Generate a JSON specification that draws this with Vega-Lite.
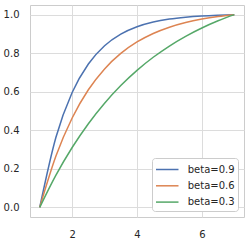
{
  "$schema": "https://vega.github.io/schema/vega-lite/v6.json",
  "width": 214,
  "height": 212,
  "autosize": {"type": "none"},
  "padding": {"left": 30, "top": 5, "right": 5, "bottom": 26},
  "background": "white",
  "config": {
    "font": "DejaVu Sans",
    "view": {"stroke": "#cccccc", "strokeWidth": 1},
    "axis": {"grid": true, "gridColor": "#dcdcdc", "gridWidth": 1, "domain": false, "ticks": false, "labelFont": "DejaVu Sans", "labelFontSize": 10, "labelColor": "#262626", "title": null}
  },
  "data": {"values": [
    {"x": 1, "y": 0, "s": "beta=0.9"},
    {"x": 1.5, "y": 0.3640, "s": "beta=0.9"},
    {"x": 2, "y": 0.5961, "s": "beta=0.9"},
    {"x": 2.5, "y": 0.7441, "s": "beta=0.9"},
    {"x": 3, "y": 0.8385, "s": "beta=0.9"},
    {"x": 3.5, "y": 0.8987, "s": "beta=0.9"},
    {"x": 4, "y": 0.9370, "s": "beta=0.9"},
    {"x": 4.5, "y": 0.9615, "s": "beta=0.9"},
    {"x": 5, "y": 0.9771, "s": "beta=0.9"},
    {"x": 5.5, "y": 0.9870, "s": "beta=0.9"},
    {"x": 6, "y": 0.9934, "s": "beta=0.9"},
    {"x": 6.5, "y": 0.9974, "s": "beta=0.9"},
    {"x": 7, "y": 1, "s": "beta=0.9"},
    {"x": 1, "y": 0, "s": "beta=0.6"},
    {"x": 1.5, "y": 0.2665, "s": "beta=0.6"},
    {"x": 2, "y": 0.4639, "s": "beta=0.6"},
    {"x": 2.5, "y": 0.6101, "s": "beta=0.6"},
    {"x": 3, "y": 0.7184, "s": "beta=0.6"},
    {"x": 3.5, "y": 0.7987, "s": "beta=0.6"},
    {"x": 4, "y": 0.8581, "s": "beta=0.6"},
    {"x": 4.5, "y": 0.9022, "s": "beta=0.6"},
    {"x": 5, "y": 0.9348, "s": "beta=0.6"},
    {"x": 5.5, "y": 0.9590, "s": "beta=0.6"},
    {"x": 6, "y": 0.9769, "s": "beta=0.6"},
    {"x": 6.5, "y": 0.9902, "s": "beta=0.6"},
    {"x": 7, "y": 1, "s": "beta=0.6"},
    {"x": 1, "y": 0, "s": "beta=0.3"},
    {"x": 1.5, "y": 0.1669, "s": "beta=0.3"},
    {"x": 2, "y": 0.3105, "s": "beta=0.3"},
    {"x": 2.5, "y": 0.4341, "s": "beta=0.3"},
    {"x": 3, "y": 0.5405, "s": "beta=0.3"},
    {"x": 3.5, "y": 0.6321, "s": "beta=0.3"},
    {"x": 4, "y": 0.7109, "s": "beta=0.3"},
    {"x": 4.5, "y": 0.7788, "s": "beta=0.3"},
    {"x": 5, "y": 0.8372, "s": "beta=0.3"},
    {"x": 5.5, "y": 0.8874, "s": "beta=0.3"},
    {"x": 6, "y": 0.9307, "s": "beta=0.3"},
    {"x": 6.5, "y": 0.9680, "s": "beta=0.3"},
    {"x": 7, "y": 1, "s": "beta=0.3"}
  ]},
  "mark": {"type": "line", "interpolate": "monotone", "strokeWidth": 1.5, "clip": true},
  "encoding": {
    "x": {"field": "x", "type": "quantitative", "scale": {"domain": [0.7, 7.3], "nice": false, "zero": false},
      "axis": {"values": [2, 4, 6], "labelPadding": 12}},
    "y": {"field": "y", "type": "quantitative", "scale": {"domain": [-0.05, 1.05], "nice": false, "zero": false},
      "axis": {"values": [0, 0.2, 0.4, 0.6, 0.8, 1.0], "format": ".1f", "labelPadding": 11}},
    "color": {"field": "s", "type": "nominal",
      "scale": {"domain": ["beta=0.9", "beta=0.6", "beta=0.3"], "range": ["#4c72b0", "#dd8452", "#55a868"]},
      "legend": {"title": null, "orient": "bottom-right", "offset": 6, "fillColor": "white", "strokeColor": "#cccccc", "cornerRadius": 3, "padding": 3,
        "symbolType": "M-1.5,0L1.5,0", "symbolStrokeWidth": 1.5, "symbolSize": 225, "symbolOffset": 3.75, "labelFontSize": 10, "labelColor": "#262626", "rowPadding": 2.3, "labelOffset": 12}
    }
  }
}
